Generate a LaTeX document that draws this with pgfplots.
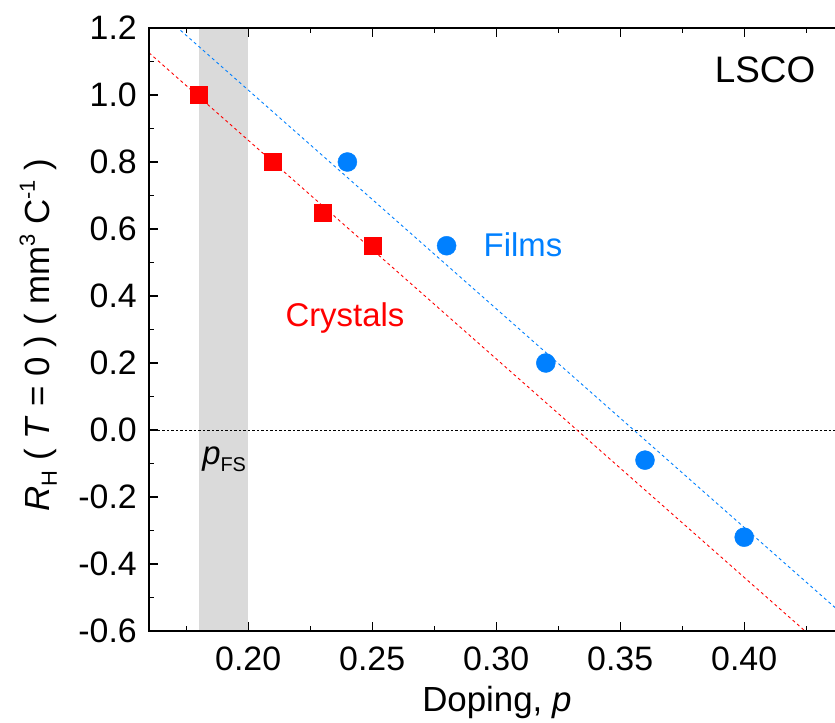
\documentclass[border=0pt]{standalone}
\usepackage{fontspec}
\setmainfont{Liberation Sans}
\usepackage{pgfplots}
\pgfplotsset{compat=1.18}
\definecolor{fblue}{RGB}{0,128,255}
\definecolor{band}{RGB}{218,218,218}
\begin{document}
\begin{tikzpicture}
\path[use as bounding box] (-149bp,-92bp) rectangle (686bp,631bp);
\begin{axis}[
  anchor=south west, at={(0,0)},
  scale only axis, width=694.4bp, height=603bp,
  xmin=0.16, xmax=0.44, ymin=-0.6, ymax=1.2,
  xtick={0.20,0.25,0.30,0.35,0.40},
  xticklabels={0.20,0.25,0.30,0.35,0.40},
  minor xtick={0.175,0.225,0.275,0.325,0.375,0.425},
  ytick={-0.6,-0.4,-0.2,0,0.2,0.4,0.6,0.8,1.0,1.2},
  yticklabels={-0.6,-0.4,-0.2,0.0,0.2,0.4,0.6,0.8,1.0,1.2},
  minor ytick={-0.5,-0.3,-0.1,0.1,0.3,0.5,0.7,0.9,1.1},
  tick align=inside,
  major tick length=9bp, minor tick length=5bp,
  every tick/.style={black, line width=1.2bp},
  axis line style={line width=1.5bp},
  ytick pos=left,
  xtick pos=both,
  xticklabel style={font=\fontsize{34}{34}\selectfont, anchor=base, yshift=-39bp, inner sep=0pt},
  yticklabel style={font=\fontsize{34}{34}\selectfont, anchor=east, xshift=-12bp, inner sep=0pt},
  xlabel={Doping, \textit{p}},
  xlabel style={font=\fontsize{35}{35}\selectfont, at={(axis description cs:0.501,-0.1343)}, anchor=base},
  ylabel={\textit{R}\raisebox{-7bp}{\fontsize{22}{22}\selectfont H} ( \textit{T} = 0 ) ( mm\raisebox{15bp}{\fontsize{22}{22}\selectfont 3} C\raisebox{15bp}{\fontsize{22}{22}\selectfont -1} )},
  ylabel style={font=\fontsize{35}{35}\selectfont, at={(axis description cs:-0.1426,0.491)}, anchor=base, rotate=0},
  axis on top,
  clip=true,
]
\addplot[draw=none, fill=band] coordinates {(0.18,-0.6) (0.20,-0.6) (0.20,1.2) (0.18,1.2)} -- cycle;
\addplot[black, line width=0.8bp, dash pattern=on 2.5bp off 2bp] coordinates {(0.16,0) (0.44,0)};
\addplot[red, line width=0.9bp, dash pattern=on 3bp off 3bp] coordinates {(0.16,1.126) (0.44,-0.701)};
\addplot[fblue, line width=0.9bp, dash pattern=on 3bp off 3bp] coordinates {(0.16,1.276) (0.44,-0.552)};
\addplot[only marks, mark=square*, mark size=8.5bp, red, mark options={fill=red, draw=red}] coordinates {
(0.18,1.00) (0.21,0.80) (0.23,0.65) (0.25,0.55)};
\addplot[only marks, mark=*, mark size=9.5bp, fblue, mark options={fill=fblue, draw=fblue}] coordinates {
(0.24,0.80) (0.28,0.55) (0.32,0.20) (0.36,-0.09) (0.40,-0.32)};
\node[font=\fontsize{37}{37}\selectfont] at (axis cs:0.4084,1.076) {LSCO};
\node[font=\fontsize{33}{33}\selectfont, text=fblue] at (axis cs:0.3108,0.552) {Films};
\node[font=\fontsize{33}{33}\selectfont, text=red] at (axis cs:0.239,0.333) {Crystals};
\node[anchor=base west, inner sep=0pt, font=\fontsize{33}{33}\selectfont] at (axis cs:0.1814,-0.104) {\textit{p}\raisebox{-7bp}{\fontsize{20}{20}\selectfont FS}};
\end{axis}
\end{tikzpicture}
\end{document}
